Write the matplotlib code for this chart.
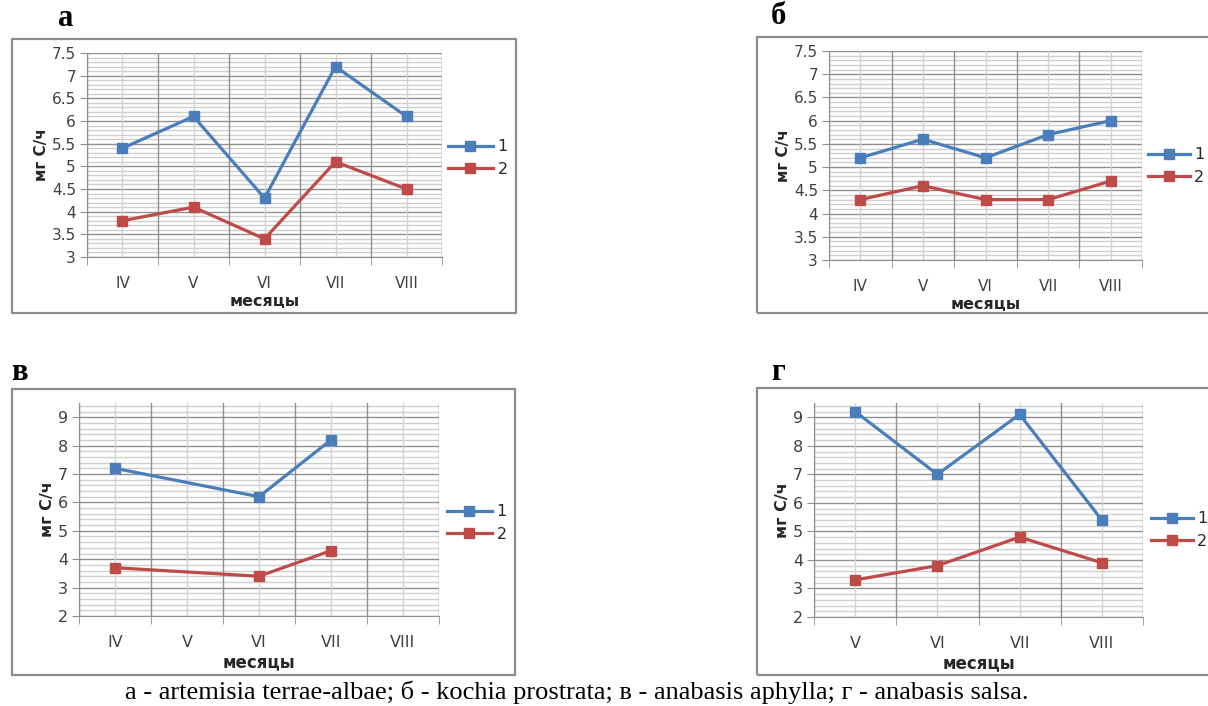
import numpy as np
import matplotlib.pyplot as plt
from matplotlib.patches import Rectangle
from matplotlib.ticker import MultipleLocator, FormatStrFormatter

# ДАННЫЕ
months_a = ['IV', 'V', 'VI', 'VII', 'VIII']
a_1 = [5.4, 6.1, 4.3, 7.2, 6.1]
a_2 = [3.8, 4.1, 3.4, 5.1, 4.5]

months_b = ['IV', 'V', 'VI', 'VII', 'VIII']
b_1 = [5.2, 5.6, 5.2, 5.7, 6.0]
b_2 = [4.3, 4.6, 4.3, 4.3, 4.7]

months_v = ['IV', 'V', 'VI', 'VII', 'VIII']
v_1 = [7.2, np.nan, 6.2, 8.2, np.nan]
v_2 = [3.7, np.nan, 3.4, 4.3, np.nan]

months_g = ['V', 'VI', 'VII', 'VIII']
g_1 = [9.2, 7.0, 9.1, 5.4]
g_2 = [3.3, 3.8, 4.8, 3.9]

caption = 'а - artemisia terrae-albae; б - kochia prostrata; в - anabasis aphylla; г - anabasis salsa.'

W, H = 1208, 706
BLUE = '#4a7ebb'
RED = '#be4b48'

fig = plt.figure(figsize=(W/100, H/100), dpi=100)

def px_rect(x0, y0, x1, y1):
    return [x0/W, 1 - y1/H, (x1 - x0)/W, (y1 - y0)/H]

# рисует одну панель в стиле Excel
def panel(frame, area, cats, s1, s2, ylim, major, minor, letter, letter_xy, leg_xy, hl, fs):
    fig.patches.append(Rectangle((frame[0]/W, 1 - frame[3]/H), (frame[2]-frame[0])/W,
                                 (frame[3]-frame[1])/H, transform=fig.transFigure,
                                 fill=False, edgecolor='#8c8c8c', lw=1.6))
    ax = fig.add_axes(px_rect(*area))
    n = len(cats)
    x = np.arange(n)
    # сетка
    for k in np.arange(ylim[0], ylim[1] + 1e-9, minor):
        is_major = abs(k/major - round(k/major)) < 1e-6
        ax.axhline(k, color='#8f8f8f' if is_major else '#cfcfcf', lw=1.0, zorder=1)
    for k in range(n):
        ax.axvline(k, color='#d2d2d2', lw=1.0, zorder=1)
    for k in range(n + 1):
        ax.axvline(k - 0.5, color='#8f8f8f', lw=1.0, zorder=1)
    # линии данных (пропуски соединяются)
    for s, c, lab in [(s1, BLUE, '1'), (s2, RED, '2')]:
        s = np.array(s, dtype=float)
        m = ~np.isnan(s)
        ax.plot(x[m], s[m], color=c, lw=2.3, marker='s', ms=7, label=lab, zorder=3)
    ax.set_xlim(-0.5, n - 0.5)
    ax.set_ylim(*ylim)
    ax.set_xticks(x)
    ax.set_xticklabels(cats, fontsize=fs, color='#404040')
    ax.set_xticks(np.arange(n + 1) - 0.5, minor=True)
    ax.tick_params(axis='x', which='major', length=0, pad=14)
    ax.tick_params(axis='x', which='minor', length=6, color='#8f8f8f')
    ax.yaxis.set_major_locator(MultipleLocator(major))
    ax.yaxis.set_major_formatter(FormatStrFormatter('%g'))
    ax.tick_params(axis='y', length=5, color='#8f8f8f', labelsize=fs, labelcolor='#404040', pad=3)
    for sp in ['top', 'right']:
        ax.spines[sp].set_visible(False)
    for sp in ['left', 'bottom']:
        ax.spines[sp].set_color('#8f8f8f')
    ax.set_xlabel('месяцы', fontsize=fs + 0.5, fontweight='bold', color='#262626', labelpad=2)
    ax.set_ylabel('мг С/ч', fontsize=fs, fontweight='bold', color='#262626', labelpad=2)
    ax.patch.set_alpha(0)
    ax.legend(loc='center left', bbox_to_anchor=(leg_xy[0]/W, 1 - leg_xy[1]/H),
              bbox_transform=fig.transFigure, frameon=False, fontsize=11.5,
              handlelength=hl, handletextpad=0.3, labelspacing=0.45, borderpad=0,
              borderaxespad=0, labelcolor='#262626')
    fig.text(letter_xy[0]/W, 1 - letter_xy[1]/H, letter, family='Liberation Serif',
             fontweight='bold', fontsize=22, ha='left', va='center')
    return ax

panel((12, 39, 516, 313), (87, 53, 442, 257), months_a, a_1, a_2, (3, 7.5), 0.5, 0.1,
      'а', (58, 18), (448, 158), 2.8, 11)
panel((757, 37, 1215, 313), (829, 51, 1142, 260), months_b, b_1, b_2, (3, 7.5), 0.5, 0.1,
      'б', (771, 16), (1148, 166), 2.6, 11)
panel((12, 389, 515, 675), (79, 403, 439, 616), months_v, v_1, v_2, (2, 9.5), 1, 0.2,
      'в', (11, 372), (447, 523), 2.8, 11.5)
panel((757, 388, 1215, 675), (814, 403, 1143, 617), months_g, g_1, g_2, (2, 9.5), 1, 0.2,
      'г', (771, 372), (1151, 530), 2.6, 11.5)

fig.text(577/W, 1 - 692/H, caption, family='Liberation Serif', fontsize=19,
         ha='center', va='center')

fig.savefig('out.png', dpi=100)
